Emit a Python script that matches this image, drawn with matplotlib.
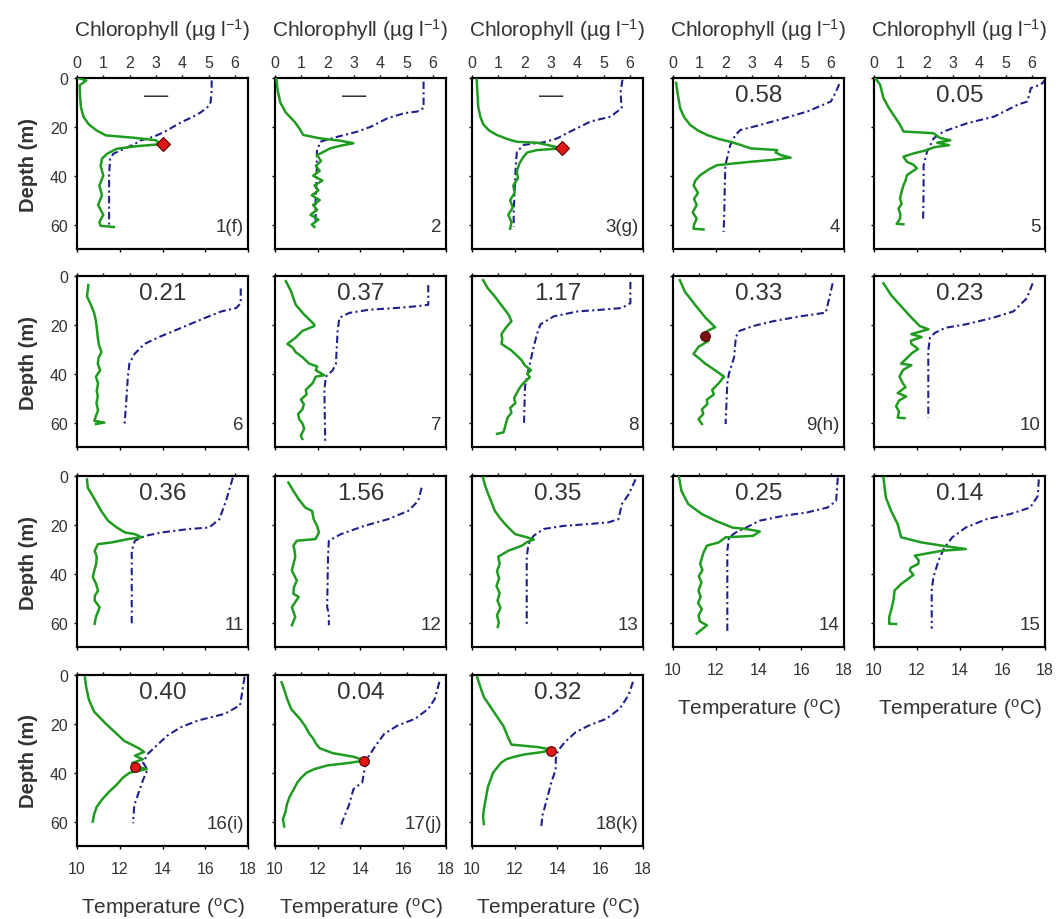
import matplotlib.pyplot as plt

plt.rcParams['font.family'] = ['Liberation Sans', 'DejaVu Sans']
plt.rcParams['mathtext.fontset'] = 'custom'
plt.rcParams['mathtext.rm'] = 'Liberation Sans'
plt.rcParams['mathtext.it'] = 'Liberation Sans'
plt.rcParams['mathtext.default'] = 'regular'

# station labels and value printed at the top of each panel
station_ids = ['1(f)', '2', '3(g)', '4', '5', '6', '7', '8', '9(h)', '10',
               '11', '12', '13', '14', '15', '16(i)', '17(j)', '18(k)']
station_values = ['—', '—', '—', '0.58', '0.05', '0.21', '0.37', '1.17', '0.33',
                  '0.23', '0.36', '1.56', '0.35', '0.25', '0.14', '0.40', '0.04', '0.32']

# chlorophyll profiles (depth m, ug/l)
chl_z1 = [0, 1, 3, 8, 12, 16, 19, 21.5, 23.5, 24.5, 25.5, 26.5, 27, 28, 29, 31, 33, 36, 40, 44, 48, 52, 56, 59, 60.5, 61]
chl_v1 = [0.05, 0.35, 0.1, 0.12, 0.15, 0.25, 0.45, 0.75, 1.1, 2.2, 3.0, 3.1, 3.25, 2.2, 1.5, 1.15, 0.95, 0.9, 1.0, 0.85, 0.95, 0.8, 1.0, 0.85, 0.9, 1.4]
chl_z2 = [0, 5, 10, 14, 18, 21, 23.3, 24.7, 25.7, 26.7, 27.7, 28.8, 31.6, 34, 36, 38, 40, 42, 44, 46, 48, 50, 52, 54, 56, 58, 60, 61]
chl_v2 = [0.05, 0.1, 0.2, 0.4, 0.75, 0.95, 1.07, 1.7, 2.5, 2.98, 2.5, 2.1, 1.6, 1.75, 1.55, 1.7, 1.45, 1.8, 1.5, 1.65, 1.4, 1.7, 1.45, 1.6, 1.35, 1.65, 1.4, 1.5]
chl_z3 = [0.7, 5, 12, 16, 19, 21.5, 23.3, 25, 26.1, 26.5, 27.5, 28.8, 29.5, 30.5, 32.2, 35, 38.4, 41, 44, 47, 50, 53, 56, 59, 61.7]
chl_v3 = [0.18, 0.2, 0.24, 0.32, 0.43, 0.65, 0.94, 1.35, 1.7, 2.47, 2.9, 3.42, 2.47, 2.1, 1.96, 1.8, 1.7, 1.75, 1.57, 1.62, 1.45, 1.55, 1.38, 1.5, 1.45]
chl_z4 = [2, 6, 12.3, 16, 19.2, 21.5, 23.3, 25, 26.1, 27.5, 28.8, 29.5, 30.5, 31.5, 32.6, 33.5, 34.3, 35.7, 37.5, 39.8, 42, 44, 47, 49.5, 52, 55, 57.6, 60, 61.7, 62]
chl_v4 = [0.12, 0.17, 0.27, 0.42, 0.65, 0.95, 1.29, 1.75, 2.18, 2.6, 2.94, 3.96, 3.9, 4.09, 4.47, 3.8, 2.94, 1.67, 1.35, 1.03, 0.85, 0.78, 0.95, 0.8, 0.9, 0.75, 0.9, 0.8, 0.78, 1.16]
chl_z5 = [0, 2.7, 8.2, 12, 15.1, 19.2, 21.9, 22.6, 24.5, 25.5, 26.5, 27.5, 28.3, 29.5, 30.9, 32.2, 34.3, 35.5, 37, 39.8, 42, 43.9, 46.5, 49.4, 51.5, 53.5, 55.5, 57.6, 59.7, 59.9]
chl_v5 = [0.04, 0.23, 0.36, 0.55, 0.74, 0.99, 1.12, 2.26, 2.5, 2.9, 2.4, 2.85, 2.3, 2.01, 1.5, 1.12, 1.25, 1.5, 1.63, 1.25, 1.2, 1.12, 1.05, 0.99, 1.05, 0.93, 1.0, 0.99, 0.86, 1.12]
chl_z6 = [3.7, 8.4, 11.8, 15, 18.5, 22, 25.2, 28, 31.2, 33.5, 35.9, 38.6, 41.2, 44, 47, 49.3, 52, 55, 57.3, 59.3, 60, 60.6]
chl_v6 = [0.43, 0.38, 0.53, 0.65, 0.72, 0.76, 0.79, 0.83, 0.93, 0.82, 0.79, 0.88, 0.72, 0.8, 0.75, 0.79, 0.74, 0.8, 0.72, 0.66, 1.04, 0.72]
chl_z7 = [2.1, 6, 11.8, 15.8, 19.8, 20.5, 22.5, 25.2, 27.8, 29.2, 31.2, 33.2, 35.9, 37, 38.6, 40.6, 41.2, 43.9, 46.6, 48.5, 50.6, 52.5, 54.6, 56.5, 58.6, 60.5, 62.6, 65.3, 66.7]
chl_v7 = [0.41, 0.6, 0.79, 1.11, 1.49, 1.49, 1.04, 0.79, 0.47, 0.66, 0.79, 1.04, 1.3, 1.6, 1.55, 1.87, 1.55, 1.43, 1.17, 1.2, 0.98, 1.1, 1.04, 0.88, 0.92, 1.05, 1.11, 0.98, 1.04]
chl_z8 = [1.7, 5, 8.4, 11, 13.8, 16, 18.5, 21, 23.8, 26, 27.8, 30.5, 32.5, 34.5, 36.5, 38.6, 40, 41.5, 43.9, 46, 48, 50, 52, 54, 56, 58, 60, 62, 64, 64.6]
chl_v8 = [0.42, 0.6, 0.87, 1.05, 1.25, 1.4, 1.5, 1.3, 1.12, 1.15, 1.12, 1.5, 1.7, 1.89, 2.0, 2.24, 2.1, 2.2, 1.95, 1.8, 1.7, 1.6, 1.65, 1.45, 1.5, 1.35, 1.3, 1.25, 1.2, 0.95]
chl_z9 = [1.7, 6.4, 11.8, 17, 21, 22.5, 24.5, 26.5, 29, 31.9, 33.5, 35.9, 38.6, 41.2, 43.9, 46.6, 48.5, 50.6, 52.5, 54.6, 56.5, 58.6, 60.6]
chl_v9 = [0.26, 0.45, 0.84, 1.23, 1.6, 1.3, 1.23, 1.36, 0.97, 0.78, 0.97, 1.23, 1.6, 1.94, 1.74, 1.49, 1.55, 1.29, 1.3, 1.1, 1.15, 0.97, 1.1]
chl_z10 = [3, 7.8, 12.4, 17, 20.5, 21.8, 23.8, 25, 26.5, 27.8, 29.9, 31.5, 33.2, 35.9, 36.5, 38.5, 41.2, 44, 45.5, 47.9, 49.3, 51, 53.3, 55.5, 58, 58.2]
chl_v10 = [0.36, 0.65, 1.03, 1.42, 1.74, 2.07, 1.42, 1.81, 1.4, 1.42, 1.68, 1.45, 1.29, 1.03, 1.42, 1.1, 0.97, 1.1, 1.2, 0.9, 1.22, 0.95, 0.84, 0.95, 0.9, 1.16]
chl_z11 = [1.4, 4.8, 9.5, 14.3, 18.3, 21, 23.1, 23.8, 25.1, 25.8, 27.2, 27.9, 30.6, 33, 36, 39, 41.4, 44, 46.9, 49, 51, 53.7, 55.5, 57.7, 60.5]
chl_v11 = [0.38, 0.41, 0.67, 0.92, 1.18, 1.5, 1.82, 2.2, 2.46, 1.95, 1.31, 0.8, 0.67, 0.75, 0.73, 0.65, 0.6, 0.72, 0.8, 0.68, 0.67, 0.86, 0.8, 0.72, 0.67]
chl_z12 = [2.7, 6.1, 9.5, 12.9, 14.3, 17.7, 20.4, 23.1, 25.8, 26.5, 28.5, 31, 33.3, 36, 38.7, 42.8, 45.5, 48.2, 49.5, 53.7, 57.7, 61.1]
chl_v12 = [0.51, 0.7, 0.9, 1.15, 1.41, 1.47, 1.6, 1.67, 1.54, 0.83, 0.7, 0.75, 0.77, 0.7, 0.64, 0.83, 0.72, 0.7, 0.9, 0.64, 0.77, 0.64]
chl_z13 = [0.7, 4, 7.5, 11, 14.3, 17, 19.7, 21.8, 23.8, 25.1, 26, 27, 28.5, 30.6, 33, 36, 39, 42, 45, 48, 51, 54, 57, 60, 61.8]
chl_v13 = [0.42, 0.5, 0.62, 0.75, 0.87, 1.05, 1.26, 1.45, 1.64, 2.09, 2.35, 2.1, 1.9, 1.38, 1.0, 1.05, 0.95, 1.03, 0.93, 1.05, 0.97, 1.08, 0.95, 1.02, 0.98]
chl_z14 = [0, 6.1, 11.5, 15.6, 18.3, 21.1, 21.7, 22.7, 24.5, 25.1, 27.2, 28.5, 31.3, 33.5, 36, 38.5, 41, 43.5, 46.9, 49.5, 52, 54.5, 57, 59.5, 61.1, 64.5]
chl_v14 = [0.22, 0.32, 0.58, 1.1, 1.61, 2.26, 2.78, 3.3, 3.04, 2.0, 1.74, 1.29, 1.16, 1.1, 1.03, 1.12, 0.98, 1.08, 0.97, 1.05, 0.95, 1.1, 0.97, 1.02, 1.29, 0.9]
chl_z15 = [0.7, 8.8, 14.3, 19.7, 25.1, 27.2, 28.5, 29.9, 30.6, 32.6, 34.5, 36, 37.5, 38.7, 40.5, 44.2, 46.9, 50, 52.3, 55, 57.7, 60.5, 60.6]
chl_v15 = [0.36, 0.45, 0.65, 0.9, 1.03, 1.81, 2.58, 3.49, 2.58, 1.55, 1.7, 1.68, 1.4, 1.36, 1.5, 1.03, 0.78, 0.75, 0.71, 0.65, 0.58, 0.58, 0.84]
chl_z16 = [1, 5, 10, 15, 20, 24, 27, 30, 31.5, 33, 34.5, 36, 37.5, 38.5, 40, 42, 45, 48, 51, 54, 57, 60]
chl_v16 = [0.3, 0.35, 0.45, 0.65, 1.1, 1.5, 1.8, 2.35, 2.55, 2.2, 2.5, 2.1, 2.25, 2.65, 2.0, 1.75, 1.5, 1.2, 0.95, 0.75, 0.65, 0.6]
chl_z17 = [3, 6, 10, 14, 18, 21, 24, 26, 28, 30, 32, 33.5, 35, 36, 37, 38.5, 40, 42, 44, 47, 50, 53, 56, 59, 62]
chl_v17 = [0.25, 0.35, 0.47, 0.62, 0.95, 1.15, 1.3, 1.45, 1.55, 1.7, 2.2, 3.0, 3.4, 2.8, 2.0, 1.5, 1.2, 1.0, 0.85, 0.7, 0.55, 0.45, 0.4, 0.3, 0.35]
chl_z18 = [1, 5, 9, 13, 17, 21, 25, 28.5, 29.5, 30.5, 31.5, 32.5, 33.5, 34.5, 36, 38, 40, 43, 46, 49, 52, 55, 58, 61]
chl_v18 = [0.2, 0.32, 0.45, 0.7, 0.95, 1.2, 1.35, 1.5, 2.5, 3.0, 2.7, 2.0, 1.6, 1.3, 1.1, 0.95, 0.8, 0.7, 0.6, 0.55, 0.5, 0.45, 0.42, 0.45]

# temperature profiles (depth m, deg C)
tmp_z1 = [1, 5, 10, 12, 14, 16, 18, 20, 22, 24, 25.5, 27, 29, 31, 33, 40, 50, 60]
tmp_v1 = [16.3, 16.3, 16.25, 16.1, 15.8, 15.4, 14.9, 14.5, 14.1, 13.6, 13.0, 12.7, 12.2, 11.7, 11.55, 11.5, 11.5, 11.5]
tmp_z2 = [1.5, 7, 12.3, 13.7, 14.4, 16.5, 20, 22, 24.1, 26.1, 30, 40, 50, 60]
tmp_v2 = [16.95, 16.95, 16.95, 16.67, 16.05, 15.26, 14.47, 13.84, 12.9, 12.12, 11.96, 11.95, 11.9, 11.9]
tmp_z3 = [0.7, 6, 12.3, 15.8, 17.8, 21.9, 24.7, 26.3, 27.4, 30.2, 35.7, 45, 55, 61]
tmp_v3 = [17.04, 16.95, 17.0, 16.49, 15.55, 14.6, 13.99, 13.36, 12.42, 12.1, 12.05, 12.0, 11.95, 11.95]
tmp_z4 = [2.5, 6, 9.6, 13.7, 16.5, 19.2, 21.3, 23.3, 27.4, 35.7, 45, 55, 63]
tmp_v4 = [17.78, 17.6, 17.39, 16.29, 15.19, 14.09, 13.15, 12.92, 12.68, 12.45, 12.42, 12.4, 12.37]
tmp_z5 = [0.4, 2.7, 4.1, 9.6, 11, 15.8, 18.5, 21.9, 24.7, 27.4, 30.2, 35.7, 45, 57.6]
tmp_v5 = [18.05, 17.81, 17.34, 17.18, 16.71, 15.62, 14.36, 13.26, 12.79, 12.64, 12.48, 12.32, 12.32, 12.3]
tmp_z6 = [5.1, 11.1, 13.1, 14.5, 17.8, 21.8, 25.2, 27.8, 31.9, 35.9, 41.2, 51.9, 61.3]
tmp_v6 = [17.66, 17.66, 17.45, 16.75, 15.81, 14.72, 13.78, 13.16, 12.69, 12.45, 12.38, 12.3, 12.22]
tmp_z7 = [3.7, 11.8, 12.4, 13.1, 13.8, 15.1, 17.1, 22.5, 35.9, 38.6, 41.2, 46.6, 68]
tmp_v7 = [17.17, 17.17, 16.62, 15.68, 14.42, 13.48, 13.01, 12.93, 12.85, 12.7, 12.38, 12.31, 12.35]
tmp_z8 = [2.4, 11.1, 13.1, 13.8, 14.5, 16.5, 19.8, 23.8, 29.2, 38.6, 45.2, 61.3]
tmp_v8 = [17.41, 17.41, 17.01, 16.06, 14.94, 13.83, 13.2, 13.04, 12.88, 12.64, 12.48, 12.43]
tmp_z9 = [3, 9, 15, 16.5, 18.5, 20.5, 22.5, 25, 33.2, 39.9, 43.9, 60.6]
tmp_v9 = [17.47, 17.31, 17.15, 15.96, 14.69, 13.74, 13.1, 12.94, 12.86, 12.62, 12.54, 12.46]
tmp_z10 = [3, 9.1, 14.5, 17.1, 19.8, 21.2, 23.2, 25.2, 30.5, 58]
tmp_v10 = [17.42, 17.15, 16.52, 15.56, 14.29, 13.34, 12.86, 12.62, 12.54, 12.54]
tmp_z11 = [0.7, 10.2, 17.7, 21.1, 21.7, 23.1, 24.5, 26.5, 30.6, 61.1]
tmp_v11 = [17.29, 16.97, 16.66, 16.18, 15.24, 13.97, 13.19, 12.71, 12.56, 12.56]
tmp_z12 = [4.8, 10.2, 14.3, 17.7, 20.4, 23.8, 26.5, 33.3, 53.7, 56.4, 61.1]
tmp_v12 = [16.86, 16.7, 16.23, 15.28, 14.18, 13.08, 12.52, 12.48, 12.44, 12.52, 12.52]
tmp_z13 = [1.4, 7.5, 11.5, 17.7, 19, 19.7, 20.4, 21.7, 24.5, 27.9, 33.3, 61.8]
tmp_v13 = [17.65, 17.33, 17.01, 16.85, 16.37, 15.42, 14.3, 13.35, 12.88, 12.64, 12.56, 12.56]
tmp_z14 = [0.7, 10.2, 12.9, 14.9, 16.3, 18.3, 21.1, 23.1, 25.1, 30.6, 64.5]
tmp_v14 = [17.71, 17.63, 17.23, 16.28, 15.17, 14.05, 13.42, 12.94, 12.62, 12.54, 12.54]
tmp_z15 = [1.4, 8.2, 12.9, 15.6, 17.7, 21.1, 25.1, 29.9, 34.6, 41.4, 46.9, 62.5]
tmp_v15 = [17.71, 17.66, 17.31, 16.36, 15.25, 14.29, 13.66, 13.26, 13.02, 12.78, 12.7, 12.7]
tmp_z16 = [0.7, 6.9, 12.4, 15.9, 18.6, 21.4, 24.8, 29, 32.4, 35.9, 38.7, 42.7, 48, 53.3, 60.7]
tmp_v16 = [17.84, 17.73, 17.63, 16.91, 15.67, 14.85, 14.23, 13.71, 13.3, 13.09, 13.3, 13.1, 12.89, 12.68, 12.62]
tmp_z17 = [2.8, 9.7, 13.8, 17.9, 20.7, 24.1, 29, 34.5, 38.7, 44, 46.7, 53.3, 60, 62.7]
tmp_v17 = [17.69, 17.48, 17.18, 16.56, 15.73, 15.11, 14.7, 14.29, 14.19, 14.08, 13.67, 13.46, 13.15, 13.05]
tmp_z18 = [2.8, 8.3, 13.8, 17.9, 20.7, 23.4, 27.6, 31, 34.5, 38.7, 44, 50.7, 57.3, 62]
tmp_v18 = [17.53, 17.32, 16.91, 16.29, 15.46, 14.85, 14.33, 14.02, 13.92, 13.92, 13.71, 13.51, 13.3, 13.24]

# sampling points marked in red
mark_station = [1, 3, 9, 16, 17, 18]
mark_chl = [3.25, 3.42, 1.23, 2.2, 3.4, 3.0]
mark_depth = [27, 28.8, 24.5, 37.5, 35.2, 31]

chl_z = [chl_z1, chl_z2, chl_z3, chl_z4, chl_z5, chl_z6, chl_z7, chl_z8, chl_z9,
         chl_z10, chl_z11, chl_z12, chl_z13, chl_z14, chl_z15, chl_z16, chl_z17, chl_z18]
chl_v = [chl_v1, chl_v2, chl_v3, chl_v4, chl_v5, chl_v6, chl_v7, chl_v8, chl_v9,
         chl_v10, chl_v11, chl_v12, chl_v13, chl_v14, chl_v15, chl_v16, chl_v17, chl_v18]
tmp_z = [tmp_z1, tmp_z2, tmp_z3, tmp_z4, tmp_z5, tmp_z6, tmp_z7, tmp_z8, tmp_z9,
         tmp_z10, tmp_z11, tmp_z12, tmp_z13, tmp_z14, tmp_z15, tmp_z16, tmp_z17, tmp_z18]
tmp_v = [tmp_v1, tmp_v2, tmp_v3, tmp_v4, tmp_v5, tmp_v6, tmp_v7, tmp_v8, tmp_v9,
         tmp_v10, tmp_v11, tmp_v12, tmp_v13, tmp_v14, tmp_v15, tmp_v16, tmp_v17, tmp_v18]

GREEN = '#1f9c1f'
NAVY = '#20208a'
TXT = '#333333'

W, H = 1058, 920
col_left = [77, 275, 472, 673, 874]
row_top = [79, 277, 477, 676]
box_w, box_h = 171, 171

fig = plt.figure(figsize=(W / 100, H / 100), dpi=100)

for i in range(18):
    r, c = divmod(i, 5)
    ax = fig.add_axes([col_left[c] / W, 1 - (row_top[r] + box_h) / H, box_w / W, box_h / H])
    ax.plot(tmp_v[i], tmp_z[i], color=NAVY, lw=1.5, ls=(0, (3.5, 1.6, 1, 1.6)))
    ax.set_xlim(10, 18)
    ax.set_ylim(70, 0)
    ax.set_xticks([10, 12, 14, 16, 18])
    ax.set_yticks([0, 20, 40, 60])

    axc = ax.twiny()
    axc.plot(chl_v[i], chl_z[i], color=GREEN, lw=1.8, zorder=3)
    axc.set_xlim(0, 6.5)
    axc.set_xticks(range(7))

    station = i + 1
    if station in mark_station:
        k = mark_station.index(station)
        shape = 'D' if station in (1, 3) else 'o'
        face = '#7a1010' if station == 9 else '#e01818'
        axc.plot(mark_chl[k], mark_depth[k], marker=shape, ms=7, mfc=face,
                 mec='#5a0000', mew=0.8, zorder=4, ls='none')

    show_temp = (r == 3) or (r == 2 and c >= 3)
    ax.tick_params(axis='x', direction='out', length=2.5, width=1, colors='black',
                   labelcolor=TXT, labelsize=11.5, pad=8.5, labelbottom=show_temp)
    ax.tick_params(axis='y', direction='out', length=2.5, width=1, colors='black',
                   labelcolor=TXT, labelsize=11.5, pad=4, labelleft=(c == 0))
    axc.tick_params(axis='x', direction='out', length=2.5, width=1, colors='black',
                    labelcolor=TXT, labelsize=11.5, pad=3, labeltop=(r == 0))
    for a in (ax, axc):
        for s in a.spines.values():
            s.set_linewidth(1.5)
            s.set_color('black')

    xc = (col_left[c] + box_w / 2) / W
    if show_temp:
        fig.text(xc, 1 - (row_top[r] + box_h + 61) / H, 'Temperature ($^{o}$C)',
                 ha='center', va='center', fontsize=15, color=TXT)
    if r == 0:
        fig.text(xc, 1 - 30 / H, 'Chlorophyll (µg l$^{-1}$)',
                 ha='center', va='center', fontsize=15, color=TXT)
    if c == 0:
        fig.text(28 / W, 1 - (row_top[r] + box_h / 2) / H, 'Depth (m)', rotation=90,
                 ha='center', va='center', fontsize=14.5, fontweight='bold', color=TXT)

    vx = 0.46 if station_values[i] == '—' else 0.5
    ax.text(vx, 0.9, station_values[i], transform=ax.transAxes, ha='center',
            va='center', fontsize=17.5, color=TXT, zorder=5)
    ax.text(0.975, 0.13, station_ids[i], transform=ax.transAxes, ha='right',
            va='center', fontsize=13.5, color=TXT, zorder=5)

fig.savefig('out.png', dpi=100)
